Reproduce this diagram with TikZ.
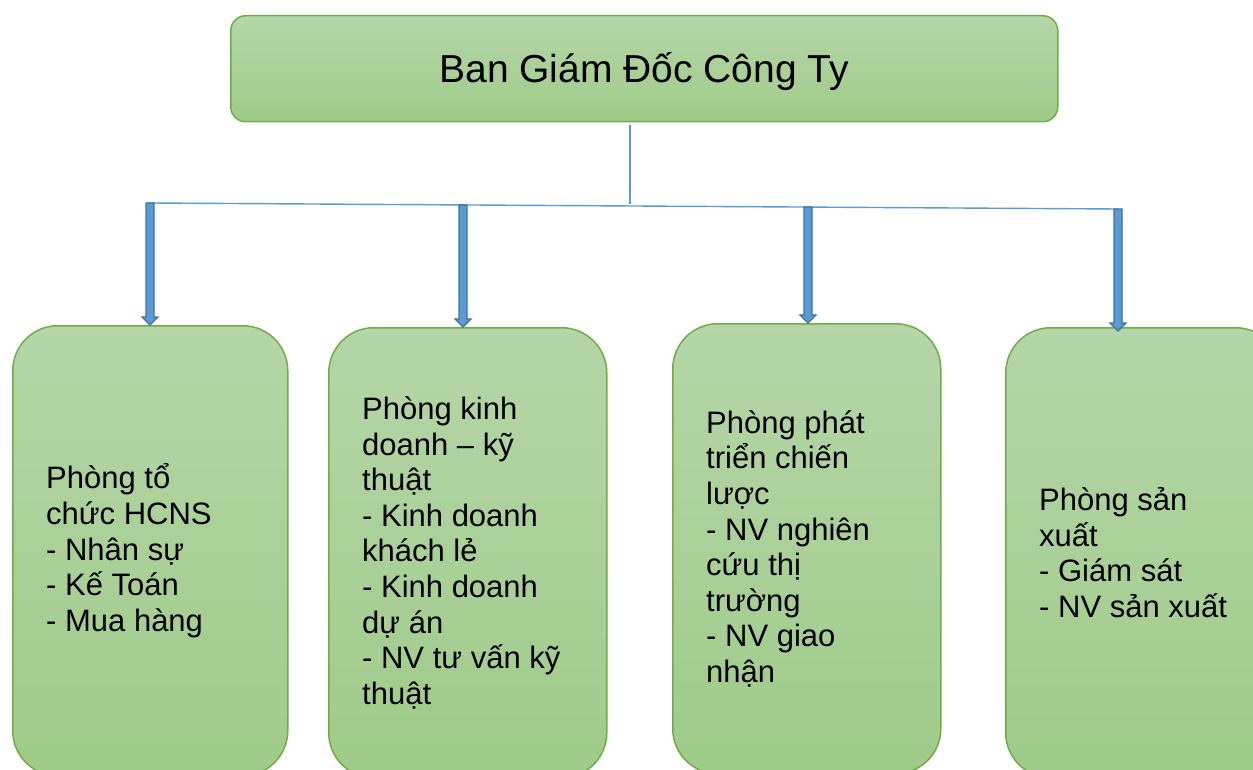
\documentclass[tikz,border=0pt]{standalone}
\usepackage{fontspec}
\setmainfont{Liberation Sans}
\usetikzlibrary{calc}
\definecolor{gtop}{HTML}{B5D6A8}
\definecolor{gbot}{HTML}{9FCB89}
\definecolor{gborder}{HTML}{70AD47}
\definecolor{lblue}{HTML}{5B9BD5}
\definecolor{dblue}{HTML}{41719C}
\tikzset{
 topbox/.style={draw=gborder, line width=1.5pt, rounded corners=15pt, top color=gtop, bottom color=gbot, minimum width=827pt, minimum height=106pt, anchor=north west, inner sep=0pt},
 titletext/.style={font=\fontsize{39}{47}\selectfont, inner sep=0pt},
 deptbox/.style={draw=gborder, line width=1.5pt, rounded corners=45pt, top color=gtop, bottom color=gbot, minimum height=450pt, anchor=north west, inner sep=0pt},
 depttext/.style={anchor=west, align=left, font=\fontsize{31}{35.6}\selectfont, inner sep=0pt},
 link/.style={draw=lblue, line width=1.8pt},
 fat/.style={fill=lblue, draw=dblue, line width=1.2pt, line join=miter},
}
\newcommand\fatarrow[2]{\draw[fat] let \p1=(#1), \p2=(#2) in (\x1-4,\y1) -- (\x1+4,\y1) -- (\x1+4,\y2+8) -- (\x1+8,\y2+8) -- (\x1,\y2) -- (\x1-8,\y2+8) -- (\x1-4,\y2+8) -- cycle;}
\begin{document}
\begin{tikzpicture}[x=1pt,y=-1pt]
\clip (0,0) rectangle (1253,770);
\fill[white] (0,0) rectangle (1253,770);
% top box
\node[topbox] (top) at (230,15) {};
\node[titletext] (title) at ($(top.center)+(0,3)$) {Ban Giám Đốc Công Ty};
% department boxes
\node[deptbox, minimum width=275pt] (b1) at (12,325) {};
\node[deptbox, minimum width=278pt] (b2) at (328,327) {};
\node[deptbox, minimum width=268pt] (b3) at (672,323) {};
\node[deptbox, minimum width=275pt] (b4) at (1005,327) {};
\node[depttext] (t1) at ($(b1.west)+(34,0)$) {Phòng tổ\\chức HCNS\\- Nhân sự\\- Kế Toán\\- Mua hàng};
\node[depttext] (t2) at ($(b2.west)+(34,0)$) {Phòng kinh\\doanh – kỹ\\thuật\\- Kinh doanh\\khách lẻ\\- Kinh doanh\\dự án\\- NV tư vấn kỹ\\thuật};
\node[depttext] (t3) at ($(b3.west)+(34,0)$) {Phòng phát\\triển chiến\\lược\\- NV nghiên\\cứu thị\\trường\\- NV giao\\nhận};
\node[depttext] (t4) at ($(b4.west)+(34,0)$) {Phòng sản\\xuất\\- Giám sát\\- NV sản xuất};
% connectors
\coordinate (vt) at (630,125);
\coordinate (vj) at (630,204);
\coordinate (c1) at (150,203);
\coordinate (c2) at (463,205);
\coordinate (c3) at (808,207);
\coordinate (c4) at (1118,209);
\draw[link] (vt) -- (vj);
\draw[link, line width=1.4pt] (c1) -- (c4);
\coordinate (e1) at (c1 |- b1.north);
\coordinate (e2) at (c2 |- b2.north);
\coordinate (e3) at (c3 |- b3.north);
\coordinate (e4) at ($(c4 |- b4.north)+(0,4)$);
\fatarrow{c1}{e1}
\fatarrow{c2}{e2}
\fatarrow{c3}{e3}
\fatarrow{c4}{e4}
\end{tikzpicture}
\end{document}
